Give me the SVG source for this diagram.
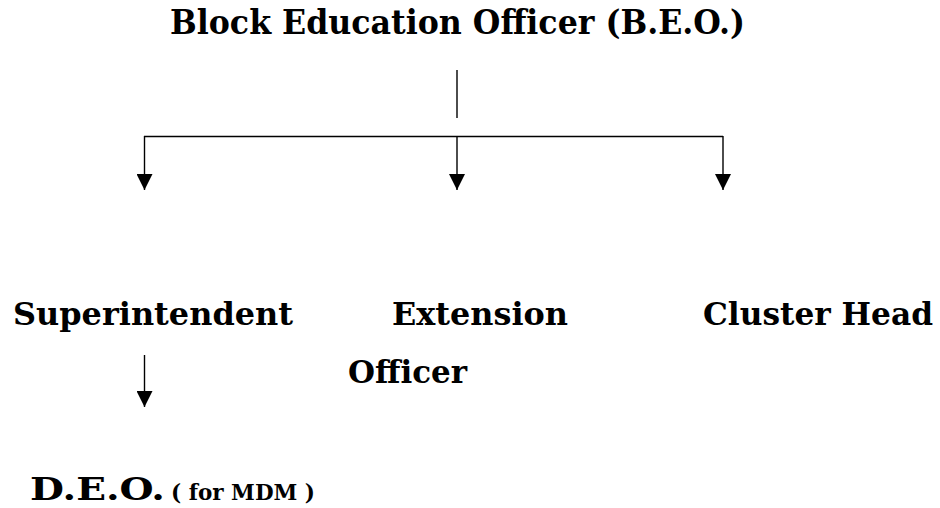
<svg xmlns="http://www.w3.org/2000/svg" width="940" height="508" viewBox="0 0 940 508">
<style>
text{font-family:"DejaVu Serif","Liberation Serif",serif;font-weight:bold;fill:#000}
.t{font-size:33px}
.n{font-size:31px}
.s{font-size:23px}
.c{stroke:#000;stroke-width:1.4;fill:none}
</style>
<defs>
<marker id="ah" markerUnits="userSpaceOnUse" markerWidth="16" markerHeight="16" viewBox="0 0 16 16" refX="16" refY="8" orient="auto">
<path d="M0,0 L16,8 L0,16 Z" fill="#000"/>
</marker>
</defs>
<rect width="940" height="508" fill="#fff"/>
<g id="beo"><text class="t" x="170" y="34" textLength="575" lengthAdjust="spacingAndGlyphs">Block Education Officer (B.E.O.)</text></g>
<g id="superintendent"><text class="n" x="13" y="325" textLength="280" lengthAdjust="spacingAndGlyphs">Superintendent</text></g>
<g id="extension-officer"><text class="n" x="392" y="325" textLength="176" lengthAdjust="spacingAndGlyphs">Extension</text><text class="n" x="348" y="383" textLength="119" lengthAdjust="spacingAndGlyphs">Officer</text></g>
<g id="cluster-head"><text class="n" x="703" y="325" textLength="230" lengthAdjust="spacingAndGlyphs">Cluster Head</text></g>
<g id="deo"><text class="n" x="30" y="500" textLength="135" lengthAdjust="spacingAndGlyphs">D.E.O.</text><text class="s" x="171" y="500" textLength="144" lengthAdjust="spacingAndGlyphs">( for MDM )</text></g>
<g id="connectors">
<line class="c" x1="457" y1="70" x2="457" y2="118"/>
<line class="c" x1="144" y1="136.5" x2="723" y2="136.5"/>
<line class="c" x1="144.5" y1="136" x2="144.5" y2="190" marker-end="url(#ah)"/>
<line class="c" x1="457" y1="136" x2="457" y2="190" marker-end="url(#ah)"/>
<line class="c" x1="723" y1="136" x2="723" y2="190" marker-end="url(#ah)"/>
<line class="c" x1="144.5" y1="355" x2="144.5" y2="407" marker-end="url(#ah)"/>
</g>
</svg>
